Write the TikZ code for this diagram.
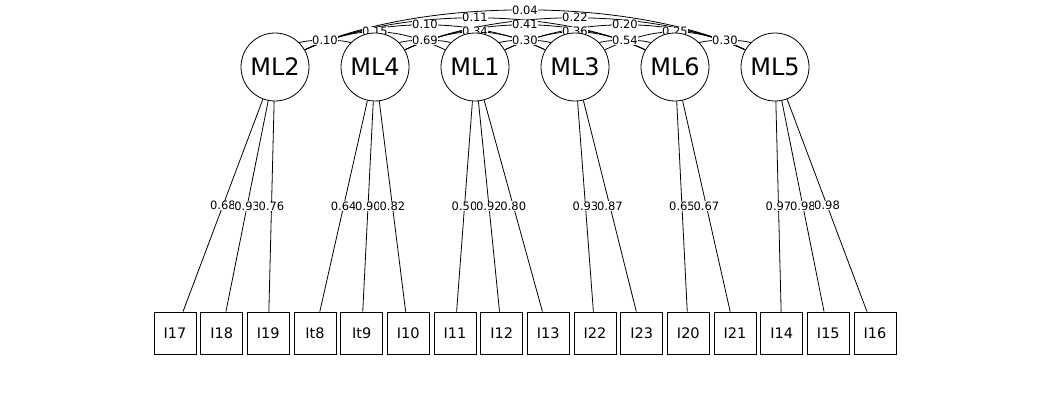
\documentclass[tikz,border=0pt]{standalone}
\usepackage{fontspec}
\setmainfont{DejaVu Sans}
\usetikzlibrary{backgrounds}
\begin{document}
\begin{tikzpicture}[x=1pt,y=1pt,
 lat/.style={circle,draw,fill=white,minimum size=68pt,inner sep=0pt,font=\fontsize{24}{28}\selectfont,line width=0.8pt},
 man/.style={rectangle,draw,fill=white,minimum size=42pt,inner sep=0pt,font=\fontsize{14.5}{17}\selectfont,line width=0.8pt},
 lab/.style={fill=white,inner sep=0.4pt,font=\fontsize{11.5}{13}\selectfont},
 edgeline/.style={line width=0.8pt}]
\useasboundingbox (0,0) rectangle (1050,400);
% latent
\node[lat] (ML2) at (275,333) {ML2};
\node[lat] (ML4) at (375,333) {ML4};
\node[lat] (ML1) at (475,333) {ML1};
\node[lat] (ML3) at (575,333) {ML3};
\node[lat] (ML6) at (675,333) {ML6};
\node[lat] (ML5) at (775,333) {ML5};
% manifest
\node[man] (I17) at (175,67) {I17};
\node[man] (I18) at (221.67,67) {I18};
\node[man] (I19) at (268.33,67) {I19};
\node[man] (It8) at (315,67) {It8};
\node[man] (It9) at (361.67,67) {It9};
\node[man] (I10) at (408.33,67) {I10};
\node[man] (I11) at (455,67) {I11};
\node[man] (I12) at (501.67,67) {I12};
\node[man] (I13) at (548.33,67) {I13};
\node[man] (I22) at (595,67) {I22};
\node[man] (I23) at (641.67,67) {I23};
\node[man] (I20) at (688.33,67) {I20};
\node[man] (I21) at (735,67) {I21};
\node[man] (I14) at (781.67,67) {I14};
\node[man] (I15) at (828.33,67) {I15};
\node[man] (I16) at (875,67) {I16};
\begin{scope}[on background layer]
% loadings
\draw[edgeline] (ML2) -- node[lab]{0.68} (I17);
\draw[edgeline] (ML2) -- node[lab]{0.93} (I18);
\draw[edgeline] (ML2) -- node[lab]{0.76} (I19);
\draw[edgeline] (ML4) -- node[lab]{0.64} (It8);
\draw[edgeline] (ML4) -- node[lab]{0.90} (It9);
\draw[edgeline] (ML4) -- node[lab]{0.82} (I10);
\draw[edgeline] (ML1) -- node[lab]{0.50} (I11);
\draw[edgeline] (ML1) -- node[lab]{0.92} (I12);
\draw[edgeline] (ML1) -- node[lab]{0.80} (I13);
\draw[edgeline] (ML3) -- node[lab]{0.93} (I22);
\draw[edgeline] (ML3) -- node[lab]{0.87} (I23);
\draw[edgeline] (ML6) -- node[lab]{0.65} (I20);
\draw[edgeline] (ML6) -- node[lab]{0.67} (I21);
\draw[edgeline] (ML5) -- node[lab]{0.97} (I14);
\draw[edgeline] (ML5) -- node[lab]{0.98} (I15);
\draw[edgeline] (ML5) -- node[lab]{0.98} (I16);
% covariances
\draw[edgeline] (ML2.30) .. controls +(25:126) and +(155:126) .. (ML5.150) node[lab,midway]{0.04};
\draw[edgeline] (ML2.30) .. controls +(25:101) and +(155:101) .. (ML6.150) node[lab,midway]{0.11};
\draw[edgeline] (ML4.30) .. controls +(25:101) and +(155:101) .. (ML5.150) node[lab,midway]{0.22};
\draw[edgeline] (ML2.30) .. controls +(25:79) and +(155:79) .. (ML3.150) node[lab,midway]{0.10};
\draw[edgeline] (ML4.30) .. controls +(25:79) and +(155:79) .. (ML6.150) node[lab,midway]{0.41};
\draw[edgeline] (ML1.30) .. controls +(25:79) and +(155:79) .. (ML5.150) node[lab,midway]{0.20};
\draw[edgeline] (ML2.30) .. controls +(25:57) and +(155:57) .. (ML1.150) node[lab,midway]{0.15};
\draw[edgeline] (ML4.30) .. controls +(25:57) and +(155:57) .. (ML3.150) node[lab,midway]{0.34};
\draw[edgeline] (ML1.30) .. controls +(25:57) and +(155:57) .. (ML6.150) node[lab,midway]{0.36};
\draw[edgeline] (ML3.30) .. controls +(25:57) and +(155:57) .. (ML5.150) node[lab,midway]{0.25};
\draw[edgeline] (ML2.45) .. controls +(20:10) and +(160:10) .. (ML4.135) node[lab,midway]{0.10};
\draw[edgeline] (ML4.45) .. controls +(20:10) and +(160:10) .. (ML1.135) node[lab,midway]{0.69};
\draw[edgeline] (ML1.45) .. controls +(20:10) and +(160:10) .. (ML3.135) node[lab,midway]{0.30};
\draw[edgeline] (ML3.45) .. controls +(20:10) and +(160:10) .. (ML6.135) node[lab,midway]{0.54};
\draw[edgeline] (ML6.45) .. controls +(20:10) and +(160:10) .. (ML5.135) node[lab,midway]{0.30};
\end{scope}
\end{tikzpicture}
\end{document}
